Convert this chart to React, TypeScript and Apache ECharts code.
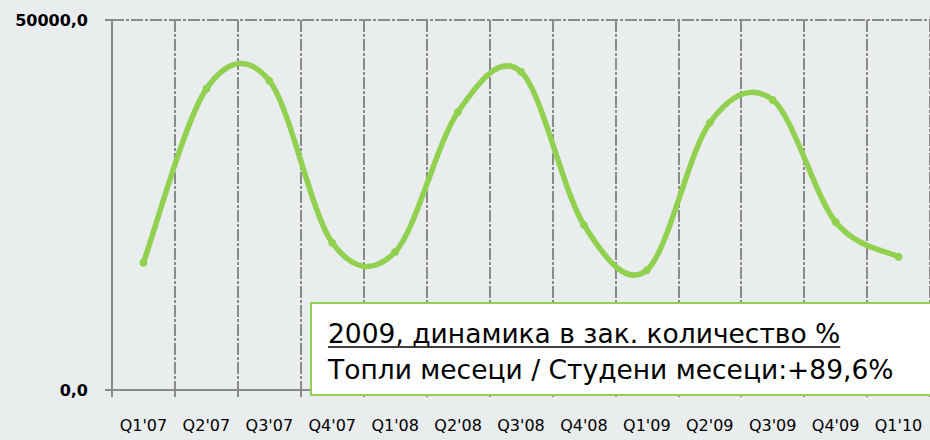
import React, { useEffect, useRef } from "react";
import * as echarts from "echarts";

const categories = ["Q1'07", "Q2'07", "Q3'07", "Q4'07", "Q1'08", "Q2'08", "Q3'08", "Q4'08", "Q1'09", "Q2'09", "Q3'09", "Q4'09", "Q1'10"];
const values = [17200, 40700, 41800, 19900, 18650, 37600, 43000, 22300, 16200, 36100, 39200, 22700, 18000];
const yTicks = [0, 50000];
const noteTitle = "2009, динамика в зак. количество %";
const noteText = "Топли месеци / Студени месеци:+89,6%";

const GREEN = "#92D050";
const GRID = "#8a8a8a";
const FONT = "'DejaVu Sans', sans-serif";
const NOTE_FONT = `26.5px ${FONT}`;

function measure(text: string, font: string): number {
  const c = document.createElement("canvas").getContext("2d");
  if (!c) return text.length * 14;
  c.font = font;
  return c.measureText(text).width;
}

export default function App() {
  const ref = useRef<HTMLDivElement>(null);
  useEffect(() => {
    if (!ref.current) return;
    const chart = echarts.init(ref.current, undefined, { renderer: "svg" });
    const n = values.length;
    const titleW = measure(noteTitle, NOTE_FONT);
    chart.setOption({
      animation: false,
      backgroundColor: "#E9EDEE",
      grid: { left: 112, right: -1, top: 20, bottom: 50, containLabel: false },
      xAxis: {
        type: "category",
        data: categories,
        boundaryGap: true,
        axisLine: { show: true, lineStyle: { color: GRID, width: 2 } },
        axisTick: { show: true, length: 7, lineStyle: { color: GRID, width: 2 } },
        axisLabel: { color: "#000", fontFamily: FONT, fontSize: 16, margin: 27, interval: 0 },
        splitLine: { show: true, lineStyle: { color: GRID, width: 2, type: [12, 2, 3, 2] } },
      },
      yAxis: {
        type: "value",
        min: yTicks[0],
        max: yTicks[1],
        interval: yTicks[1] - yTicks[0],
        axisLine: { show: true, lineStyle: { color: GRID, width: 2 } },
        axisTick: { show: true, length: 7, lineStyle: { color: GRID, width: 2 } },
        axisLabel: {
          color: "#000",
          fontFamily: FONT,
          fontWeight: "bold",
          fontSize: 16,
          margin: 24,
          formatter: (v: number) => v.toFixed(1).replace(".", ","),
        },
        splitLine: { show: true, lineStyle: { color: GRID, width: 2, type: [12, 2, 3, 2] } },
      },
      series: [
        {
          type: "custom",
          data: values.map((v, i) => [i, v]),
          encode: { x: 0, y: 1 },
          z: 3,
          renderItem: (params: any, api: any) => {
            const i = params.dataIndex;
            const pt = (j: number) => {
              const k = Math.max(0, Math.min(n - 1, j));
              return api.coord([k, values[k]]);
            };
            const p1 = pt(i);
            const children: any[] = [];
            if (i < n - 1) {
              const p0 = pt(i - 1);
              const p2 = pt(i + 1);
              const p3 = pt(i + 2);
              children.push({
                type: "bezierCurve",
                shape: {
                  x1: p1[0],
                  y1: p1[1],
                  cpx1: p1[0] + (p2[0] - p0[0]) / 6,
                  cpy1: p1[1] + (p2[1] - p0[1]) / 6,
                  cpx2: p2[0] - (p3[0] - p1[0]) / 6,
                  cpy2: p2[1] - (p3[1] - p1[1]) / 6,
                  x2: p2[0],
                  y2: p2[1],
                },
                style: { stroke: GREEN, lineWidth: 5.5, fill: null, lineCap: "round" },
              });
            }
            children.push({
              type: "circle",
              shape: { cx: p1[0], cy: p1[1], r: 4 },
              style: { fill: GREEN },
            });
            return { type: "group", children };
          },
        },
      ],
      graphic: [
        {
          type: "rect",
          z: 100,
          shape: { x: 311, y: 303, width: 640, height: 92 },
          style: { fill: "#fff", stroke: GREEN, lineWidth: 2 },
        },
        {
          type: "text",
          z: 101,
          x: 328,
          y: 333,
          style: { text: noteTitle, fill: "#000", font: NOTE_FONT, verticalAlign: "middle" },
        },
        {
          type: "line",
          z: 101,
          shape: { x1: 328, y1: 347, x2: 328 + titleW, y2: 347 },
          style: { stroke: "#000", lineWidth: 1.5 },
        },
        {
          type: "text",
          z: 101,
          x: 328,
          y: 369,
          style: { text: noteText, fill: "#000", font: NOTE_FONT, verticalAlign: "middle" },
        },
      ],
    });
    return () => chart.dispose();
  }, []);
  return <div ref={ref} style={{ position: "fixed", left: 0, top: 0, width: 930, height: 440 }} />;
}
